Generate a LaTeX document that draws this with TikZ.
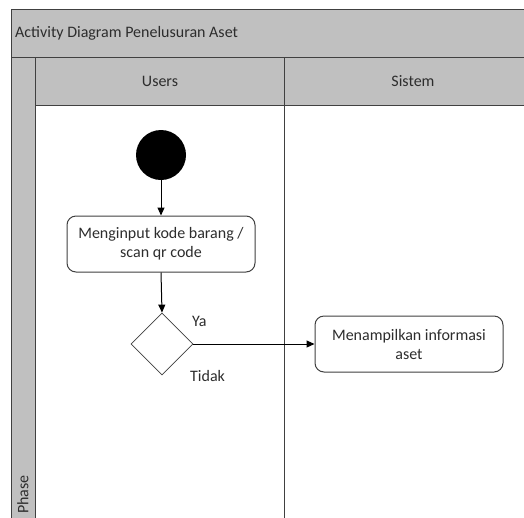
\documentclass[tikz,border=0pt]{standalone}
\usepackage{fontspec}
\setmainfont{Carlito}
\usetikzlibrary{shapes.geometric,arrows.meta}
\definecolor{hdr}{RGB}{192,192,192}
\definecolor{ln}{RGB}{64,64,64}
\definecolor{txt}{RGB}{45,45,45}
\begin{document}
\begin{tikzpicture}[x=1pt,y=-1pt,
  lanetext/.style={font=\fontsize{16}{18}\selectfont,text=txt,inner sep=0pt},
  action/.style={draw=ln,line width=1pt,rounded corners=9pt,minimum width=188pt,minimum height=56pt,align=center,font=\fontsize{16}{19}\selectfont,text=txt,fill=white},
  decision/.style={draw=ln,line width=0.8pt,diamond,minimum width=62pt,minimum height=62pt,inner sep=0pt,fill=white},
  startnode/.style={circle,fill=black,minimum size=50pt,inner sep=0pt},
  flow/.style={draw=black,line width=1pt,-{Triangle[length=8pt,width=7pt]}},
  guard/.style={font=\fontsize{16}{18}\selectfont,text=txt,inner sep=0pt}]
\useasboundingbox (0,0) rectangle (524,517);
\begin{scope}
\clip (0,0) rectangle (524,517);
% swimlane frame
\fill[hdr] (11,9) rectangle (530,105);
\fill[hdr] (11,105) rectangle (35,530);
\draw[ln,line width=1pt] (530,9) -- (11,9) -- (11,530);
\draw[ln,line width=1pt] (11,57) -- (530,57);
\draw[ln,line width=1pt] (35,57) -- (35,530);
\draw[ln,line width=1pt] (35,105) -- (530,105);
\draw[ln,line width=1pt] (284,57) -- (284,530);
\end{scope}
\node[lanetext,anchor=west] (title) at (15,33) {Activity Diagram Penelusuran Aset};
\node[lanetext] (users) at (160,81) {Users};
\node[lanetext] (sistem) at (413,81) {Sistem};
\node[lanetext,rotate=90,anchor=west] (phase) at (23,514) {Phase};
% nodes
\node[startnode] (start) at (161,155) {};
\node[action] (input) at (161,244) {Menginput kode barang /\\scan qr code};
\node[decision] (dec) at (162,344) {};
\node[action] (show) at (409,344) {Menampilkan informasi\\aset};
\node[guard,anchor=west] (ya) at (192,321) {Ya};
\node[guard,anchor=west] (tidak) at (190,376) {Tidak};
% connectors
\draw[flow] (start) -- (input);
\draw[flow] (input.south) -- (dec.north);
\draw[flow] (dec.east) -- (show.west);
\end{tikzpicture}
\end{document}
